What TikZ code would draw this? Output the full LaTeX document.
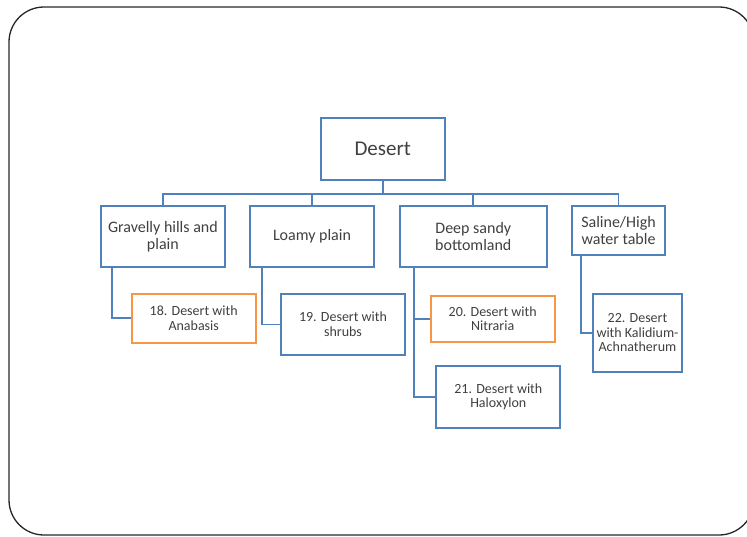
\documentclass[tikz,border=0pt]{standalone}
\usepackage{fontspec}
\setmainfont{Carlito}
\definecolor{oblue}{HTML}{4F81BD}
\definecolor{oorange}{HTML}{F79646}
\definecolor{txt}{HTML}{404040}
\begin{document}
\begin{tikzpicture}[x=1pt,y=-1pt,
  box/.style={draw=oblue,line width=1.8pt,fill=white,inner sep=0pt,align=center,text=txt},
  obox/.style={box,draw=oorange},
  big/.style={font=\fontsize{21}{23}\selectfont},
  mid/.style={font=\fontsize{16}{16.7}\selectfont},
  small/.style={font=\fontsize{14}{14.5}\selectfont},
  conn/.style={draw=oblue,line width=1.8pt}]
\useasboundingbox (0,0) rectangle (747,536);
\draw[line width=1.3pt,draw=black!85,rounded corners=35pt] (9,7) rectangle (754,535);
% nodes
\node[box,big,minimum width=124pt,minimum height=62pt] (desert) at (382.7,149) {Desert};
\node[box,mid,minimum width=124pt,minimum height=61pt] (gr) at (162.9,236.5) {Gravelly hills and\\plain};
\node[box,mid,minimum width=124pt,minimum height=61pt] (lo) at (312,236.5) {Loamy plain};
\node[box,mid,minimum width=146.7pt,minimum height=61pt] (ds) at (473.3,236.5) {Deep sandy\\bottomland};
\node[box,mid,minimum width=93pt,minimum height=49.3pt] (sa) at (618.5,230.4) {Saline/High\\water table};
\node[obox,small,minimum width=124pt,minimum height=49pt] (c18) at (193.7,318.2) {18. Desert with\\Anabasis};
\node[box,small,minimum width=124pt,minimum height=61.3pt] (c19) at (343,324.4) {19. Desert with\\shrubs};
\node[obox,small,minimum width=124pt,minimum height=46.3pt] (c20) at (492.7,318.9) {20. Desert with\\Nitraria};
\node[box,small,minimum width=124pt,minimum height=61.4pt] (c21) at (498.3,397) {21. Desert with\\Haloxylon};
\node[box,small,minimum width=89pt,minimum height=78pt] (c22) at (637.5,333) {22. Desert\\with Kalidium-\\Achnatherum};
% connectors
\coordinate (bus) at ([yshift=-13pt]desert.south);
\draw[conn] (desert.south) -- (bus);
\draw[conn] (bus) -| (gr.north);
\draw[conn] (bus) -| (lo.north);
\draw[conn] (bus) -| (ds.north);
\draw[conn] (bus) -| (sa.north);
\draw[conn] ([xshift=12.3pt]gr.south west) |- (c18.west);
\draw[conn] ([xshift=12.7pt]lo.south west) |- (c19.west);
\draw[conn] ([xshift=14.7pt]ds.south west) |- (c20.west);
\draw[conn] ([xshift=14.7pt]ds.south west) |- (c21.west);
\draw[conn] ([xshift=10pt]sa.south west) |- (c22.west);
\end{tikzpicture}
\end{document}
